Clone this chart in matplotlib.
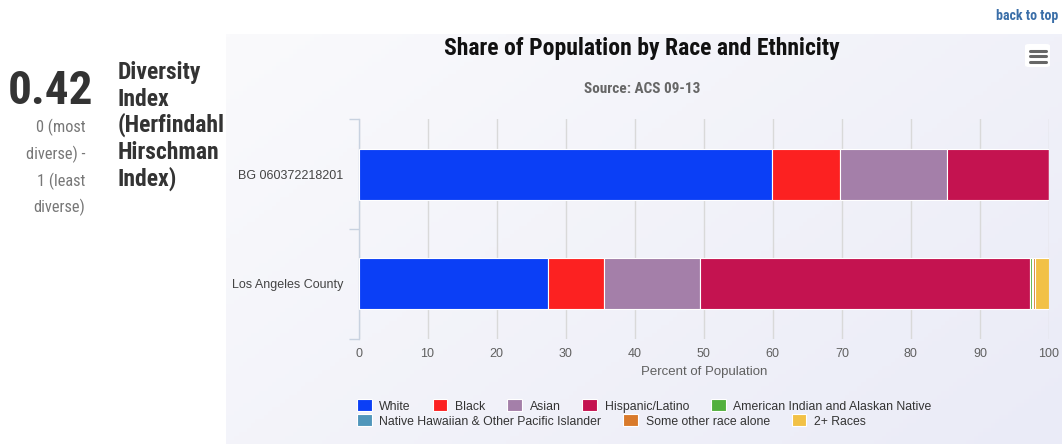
import matplotlib
matplotlib.use('Agg')
import matplotlib.pyplot as plt
import numpy as np
from matplotlib import font_manager as fm
from matplotlib.patches import FancyBboxPatch

# ---------------- data ----------------
categories = ['BG 060372218201', 'Los Angeles County']
series_names = ['White', 'Black', 'Asian', 'Hispanic/Latino',
                'American Indian and Alaskan Native',
                'Native Hawaiian & Other Pacific Islander',
                'Some other race alone', '2+ Races']
white = [59.9, 27.5]
black = [9.8, 8.1]
asian = [15.6, 13.9]
hispanic = [14.7, 47.8]
aian = [0.0, 0.2]
nhpi = [0.0, 0.2]
other = [0.0, 0.3]
two_plus = [0.0, 2.0]
series_values = [white, black, asian, hispanic, aian, nhpi, other, two_plus]
series_colors = ['#0b3ff6', '#fc2121', '#a47fa9', '#c41350',
                 '#52b03d', '#5096bb', '#d97a2b', '#f2c146']
x_ticks = list(range(0, 101, 10))
diversity_index = '0.42'

# ---------------- fonts ----------------
available = {f.name for f in fm.fontManager.ttflist}
def pick(cands, default='DejaVu Sans'):
    for c in cands:
        if c in available:
            return c
    return default

NARROW = pick(['Liberation Sans Narrow', 'Roboto Condensed', 'Open Sans Condensed', 'DejaVu Sans'])
SANS = pick(['Liberation Sans', 'Lato', 'DejaVu Sans'])

W, H = 1062, 444
fig = plt.figure(figsize=(W / 100, H / 100), dpi=100)
fig.patch.set_facecolor('white')

def fx(x):
    return x / W

def fy(y):
    return 1 - y / H

# ---------------- background gradient of chart container ----------------
bg = fig.add_axes([fx(226), 0, 1 - fx(226), (H - 34) / H])
gx = np.linspace(0, 1, 200)
gy = np.linspace(0, 1, 100)
G = gx[None, :] * 0.6 + gy[:, None] * 0.4
c0 = np.array([250, 250, 252]) / 255
c1 = np.array([234, 235, 247]) / 255
img = c0 + (c1 - c0) * G[..., None]
bg.imshow(img, aspect='auto', extent=[0, 1, 0, 1], origin='upper')
bg.axis('off')
bg.set_zorder(-10)

# ---------------- main axes ----------------
ax = fig.add_axes([fx(358.5), fy(338.5), fx(1049) - fx(358.5), (338.5 - 119.3) / H])
ax.patch.set_alpha(0)
ypos = np.arange(len(categories))
left = np.zeros(len(categories))
handles = []
for name, vals, col in zip(series_names, series_values, series_colors):
    vals = np.array(vals)
    b = ax.barh(ypos, vals, left=left, height=0.465, color=col,
                edgecolor='white', linewidth=0.8, zorder=3, label=name)
    handles.append(b)
    left += vals

ax.set_xlim(0, 100)
ax.set_ylim(1.5, -0.5)
ax.set_xticks(x_ticks)
ax.set_xticklabels([str(t) for t in x_ticks], fontfamily=SANS)
ax.grid(axis='x', color='#d9d9d9', lw=1, zorder=0)
ax.tick_params(axis='x', length=0, pad=7, labelcolor='#606060', labelsize=9)
ax.set_yticks(ypos)
ax.set_yticklabels(categories, fontfamily=SANS)
ax.tick_params(axis='y', which='major', length=0, pad=11, labelcolor='#444444', labelsize=9)
ax.set_yticks([-0.5, 0.5, 1.5], minor=True)
ax.tick_params(axis='y', which='minor', length=7.2, width=1, color='#c8d2e0', direction='out')
for s in ['top', 'right', 'bottom']:
    ax.spines[s].set_visible(False)
ax.spines['left'].set_color('#c8d2e0')
ax.spines['left'].set_linewidth(1)
ax.set_xlabel('Percent of Population', fontsize=9.5, color='#606060',
              fontfamily=SANS, labelpad=4)

# ---------------- legend ----------------
leg_kw = dict(frameon=False, handlelength=1.18, handleheight=1.08,
              handletextpad=0.64, columnspacing=1.78, borderpad=0,
              borderaxespad=0, loc='center left', prop={'family': SANS, 'size': 8.85})
leg1 = fig.legend(handles[:5], series_names[:5], ncol=5,
                  bbox_to_anchor=(fx(357), fy(406)), **leg_kw)
leg2 = fig.legend(handles[5:], series_names[5:], ncol=3,
                  bbox_to_anchor=(fx(357), fy(421)), **leg_kw)
for lg in (leg1, leg2):
    for t in lg.get_texts():
        t.set_color('#333333')

# ---------------- titles ----------------
fig.text(fx(641.5), fy(48), 'Share of Population by Race and Ethnicity',
         ha='center', va='center', fontsize=17, fontweight='bold',
         fontfamily=NARROW, color='#111111')
fig.text(fx(642), fy(89), 'Source: ACS 09-13', ha='center', va='center',
         fontsize=11, fontweight='semibold', fontfamily=NARROW, color='#666666')
fig.text(fx(1058), fy(16), 'back to top', ha='right', va='center',
         fontsize=10, fontweight='bold', fontfamily=NARROW, color='#3a6ea8')

# hamburger menu icon
fig.patches.append(FancyBboxPatch((fx(1025), fy(67)), fx(25), 23 / H,
                                  boxstyle='round,pad=0,rounding_size=0.004',
                                  transform=fig.transFigure, facecolor='white',
                                  edgecolor='none', zorder=5))
for yy in (50.7, 56.3, 62.0):
    fig.lines.append(plt.Line2D([fx(1030), fx(1046)], [fy(yy), fy(yy)],
                                transform=fig.transFigure, color='#666666',
                                lw=2.2, solid_capstyle='round', zorder=6))

# ---------------- left panel ----------------
fig.text(fx(93.5), fy(103.5), diversity_index, ha='right', va='baseline',
         fontsize=34, fontweight='bold', fontfamily=NARROW, color='#333333')
for txt, base in zip(['0 (most', 'diverse) -', '1 (least', 'diverse)'],
                     [132.3, 159, 186, 212.5]):
    fig.text(fx(85.3), fy(base), txt, ha='right', va='baseline', fontsize=11.8,
             fontfamily=NARROW, color='#777777')
for txt, base in zip(['Diversity', 'Index', '(Herfindahl', 'Hirschman', 'Index)'],
                     [79, 105.5, 132, 159, 185.7]):
    fig.text(fx(117.3), fy(base), txt, ha='left', va='baseline', fontsize=17,
             fontweight='bold', fontfamily=NARROW, color='#333333')

fig.savefig('out.png', dpi=100, facecolor='white')
